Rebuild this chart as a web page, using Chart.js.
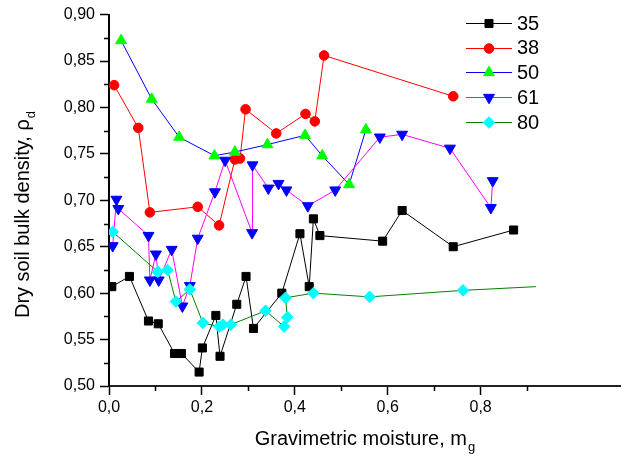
<!DOCTYPE html>
<html><head><meta charset="utf-8">
<script src="https://cdn.jsdelivr.net/npm/chart.js@4.4.0/dist/chart.umd.min.js"></script>
<style>html,body{margin:0;padding:0;background:#fff}#wrap{width:641px;height:457px;position:relative}canvas{display:block}</style>
</head><body><div id="wrap"><canvas id="c" width="641" height="457"></canvas></div>
<script>
// ---- data ----
const seriesNames = ['35', '38', '50', '61', '80'];

const x35 = [0.006,0.044,0.085,0.106,0.141,0.156,0.194,0.201,0.230,0.239,0.275,0.295,0.311,0.372,0.411,0.431,0.440,0.454,0.589,0.631,0.741,0.871];
const y35 = [0.607,0.618,0.570,0.567,0.535,0.535,0.515,0.541,0.576,0.532,0.588,0.618,0.562,0.600,0.664,0.607,0.680,0.662,0.656,0.689,0.650,0.668];

const x38 = [0.011,0.063,0.088,0.191,0.237,0.271,0.282,0.294,0.360,0.423,0.443,0.463,0.741];
const y38 = [0.824,0.778,0.687,0.693,0.673,0.744,0.745,0.798,0.772,0.793,0.785,0.856,0.812];

const x50 = [0.026,0.092,0.151,0.227,0.271,0.341,0.422,0.459,0.517,0.553];
const y50 = [0.872,0.809,0.768,0.748,0.752,0.760,0.770,0.748,0.717,0.776];

const x61 = [0.008,0.016,0.020,0.085,0.088,0.101,0.107,0.135,0.158,0.174,0.191,0.228,0.250,0.308,0.309,0.343,0.365,0.382,0.428,0.487,0.583,0.631,0.734,0.822,0.826];
const y61 = [0.651,0.701,0.691,0.662,0.614,0.642,0.614,0.647,0.586,0.608,0.659,0.709,0.743,0.665,0.738,0.713,0.718,0.711,0.694,0.711,0.768,0.771,0.756,0.692,0.721];

const x80 = [0.008,0.105,0.126,0.144,0.174,0.202,0.237,0.245,0.262,0.337,0.377,0.384,0.380,0.440,0.561,0.762,0.919];
const y80 = [0.666,0.623,0.625,0.591,0.604,0.568,0.564,0.566,0.566,0.581,0.564,0.574,0.595,0.600,0.596,0.603,0.607];

const xTickValues = [0, 0.2, 0.4, 0.6, 0.8];
const xTickLabels = ['0,0', '0,2', '0,4', '0,6', '0,8'];
const xMinorTicks = [0.1, 0.3, 0.5, 0.7, 0.9];
const yTickValues = [0.50, 0.55, 0.60, 0.65, 0.70, 0.75, 0.80, 0.85, 0.90];
const yTickLabels = ['0,50', '0,55', '0,60', '0,65', '0,70', '0,75', '0,80', '0,85', '0,90'];
const yMinorTicks = [0.525, 0.575, 0.625, 0.675, 0.725, 0.775, 0.825, 0.875];

const xTitle = 'Gravimetric moisture, m';
const xTitleSub = 'g';
const yTitle = 'Dry soil bulk density, \u03C1';
const yTitleSub = 'd';

// ---- styles ----
const FONT = "'Liberation Sans', Arial, sans-serif";
const lineColors = ['#000000', '#ff0000', '#0000ff', '#ff00ff', '#008000'];
const markerColors = ['#000000', '#ff0000', '#00ff00', '#0000ff', '#00ffff'];
const markerStyles = ['rect', 'circle', 'triangle', 'triangle', 'rectRot'];
const markerRot = [0, 0, 0, 180, 0];
const markerRadius = [5.7, 4.8, 6.3, 6.3, 5.8];

const xs = [x35, x38, x50, x61, x80];
const ys = [y35, y38, y50, y61, y80];

function pts(xa, ya) { return xa.map((v, i) => ({ x: v, y: ya[i] })); }

const datasets = seriesNames.map((name, k) => ({
  label: name,
  data: pts(xs[k], ys[k]),
  showLine: true,
  borderColor: lineColors[k],
  borderWidth: 1,
  tension: 0,
  pointStyle: markerStyles[k],
  rotation: markerRot[k],
  pointRadius: (k === 4) ? xs[k].map((v, i) => i === xs[k].length - 1 ? 0 : markerRadius[k]) : markerRadius[k],
  pointHoverRadius: markerRadius[k],
  pointBackgroundColor: markerColors[k],
  pointBorderColor: markerColors[k],
  pointBorderWidth: 1,
  order: 5 - k
}));

const extras = {
  id: 'extras',
  afterDraw(chart) {
    const ctx = chart.ctx;
    const xS = chart.scales.x, yS = chart.scales.y;
    const ca = chart.chartArea;
    ctx.save();
    // minor ticks
    ctx.strokeStyle = '#000';
    ctx.lineWidth = 1.5;
    ctx.beginPath();
    xMinorTicks.forEach(v => {
      const px = Math.round(xS.getPixelForValue(v)) + 0.5;
      ctx.moveTo(px, ca.bottom); ctx.lineTo(px, ca.bottom + 5);
    });
    yMinorTicks.forEach(v => {
      const py = Math.round(yS.getPixelForValue(v)) + 0.5;
      ctx.moveTo(ca.left - 5, py); ctx.lineTo(ca.left, py);
    });
    ctx.stroke();

    // x title
    ctx.fillStyle = '#000';
    ctx.textBaseline = 'alphabetic';
    ctx.textAlign = 'left';
    ctx.font = '20px ' + FONT;
    const wMain = ctx.measureText(xTitle).width;
    ctx.font = '13px ' + FONT;
    const wSub = ctx.measureText(xTitleSub).width;
    const xStart = (ca.left + ca.right) / 2 - (wMain + wSub) / 2;
    ctx.font = '20px ' + FONT;
    ctx.fillText(xTitle, xStart, 445);
    ctx.font = '13px ' + FONT;
    ctx.fillText(xTitleSub, xStart + wMain + 1, 451);

    // y title
    ctx.save();
    ctx.translate(29, 215);
    ctx.rotate(-Math.PI / 2);
    ctx.font = '20px ' + FONT;
    const wy = ctx.measureText(yTitle).width;
    ctx.font = '13px ' + FONT;
    const wys = ctx.measureText(yTitleSub).width;
    const ys0 = -(wy + wys) / 2;
    ctx.font = '20px ' + FONT;
    ctx.fillText(yTitle, ys0, 0);
    ctx.font = '13px ' + FONT;
    ctx.fillText(yTitleSub, ys0 + wy + 1, 6);
    ctx.restore();

    // legend
    const rowY = [23, 47.7, 72, 97, 122];
    seriesNames.forEach((name, k) => {
      const yy = rowY[k];
      ctx.strokeStyle = lineColors[k];
      ctx.lineWidth = 1;
      ctx.beginPath();
      ctx.moveTo(466, Math.round(yy) + 0.5); ctx.lineTo(512, Math.round(yy) + 0.5);
      ctx.stroke();
      ctx.fillStyle = markerColors[k];
      ctx.strokeStyle = markerColors[k];
      if (Chart.helpers && Chart.helpers.drawPoint) {
        Chart.helpers.drawPoint(ctx, { pointStyle: markerStyles[k], rotation: markerRot[k], radius: markerRadius[k], borderWidth: 1 }, 489, Math.round(yy) + 0.5);
      }
      ctx.fillStyle = '#000';
      ctx.font = '20px ' + FONT;
      ctx.textBaseline = 'middle';
      ctx.fillText(name, 517, yy + 1);
    });
    ctx.restore();
  }
};

Chart.defaults.font.family = FONT;
Chart.defaults.color = '#000';

new Chart(document.getElementById('c'), {
  type: 'scatter',
  data: { datasets },
  options: {
    responsive: false,
    devicePixelRatio: 1,
    animation: false,
    events: [],
    layout: { padding: { left: 0, right: 21, top: 12, bottom: 0 } },
    plugins: { legend: { display: false }, tooltip: { enabled: false }, title: { display: false } },
    scales: {
      x: {
        type: 'linear', position: 'bottom', min: 0, max: 1.1,
        afterBuildTicks: s => { s.ticks = xTickValues.map(v => ({ value: v })); },
        afterFit: s => { s.height = 71; },
        ticks: {
          autoSkip: false, maxRotation: 0, padding: 3,
          font: { size: 16 }, color: '#000',
          callback: (v, i) => xTickLabels[i]
        },
        grid: { display: true, drawOnChartArea: false, drawTicks: true, tickLength: 9, tickColor: '#000', tickWidth: 1.5 },
        border: { display: true, color: '#222', width: 2 }
      },
      y: {
        type: 'linear', position: 'left', min: 0.5, max: 0.9,
        afterBuildTicks: s => { s.ticks = yTickValues.map(v => ({ value: v })); },
        afterFit: s => { s.width = 109; },
        ticks: {
          autoSkip: false, padding: 5,
          font: { size: 16 }, color: '#000',
          callback: (v, i) => yTickLabels[i]
        },
        grid: { display: true, drawOnChartArea: false, drawTicks: true, tickLength: 9, tickColor: '#000', tickWidth: 1.5 },
        border: { display: true, color: '#000', width: 2 }
      }
    }
  },
  plugins: [extras]
});
</script>
</body></html>
